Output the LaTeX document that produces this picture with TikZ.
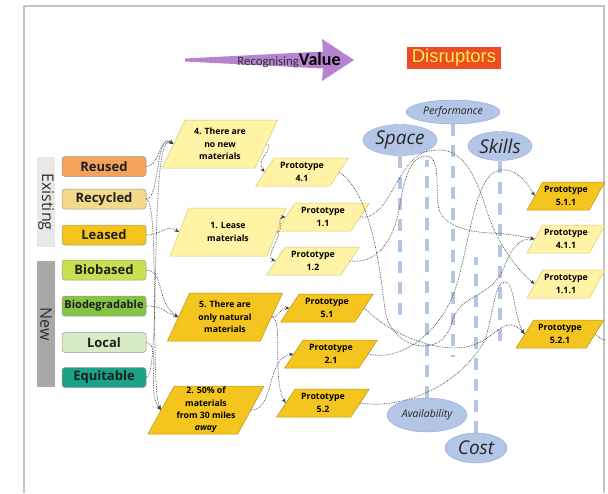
\documentclass[tikz,border=0pt]{standalone}
\usepackage{fontspec}
\setmainfont{Open Sans}
\newfontfamily\calibrifont{Carlito}
\newfontfamily\arialfont{Liberation Sans}
\usetikzlibrary{shapes.geometric,arrows.meta}
\pgfdeclarelayer{background}
\pgfsetlayers{background,main}

\definecolor{frameGray}{HTML}{C4C4C4}
\definecolor{valuePurple}{HTML}{B583D0}
\definecolor{disruptRed}{HTML}{EE4A24}
\definecolor{disruptText}{HTML}{FFF24A}
\definecolor{barLight}{HTML}{E8E8E8}
\definecolor{barDark}{HTML}{A8A8A8}
\definecolor{cReused}{HTML}{F4A25C}
\definecolor{cRecycled}{HTML}{F3D98A}
\definecolor{cLeased}{HTML}{F4C41C}
\definecolor{cBiobased}{HTML}{C6E14E}
\definecolor{cBiodeg}{HTML}{84C444}
\definecolor{cLocal}{HTML}{D8EDC6}
\definecolor{cEquitable}{HTML}{1AA386}
\definecolor{paleYellow}{HTML}{FFF3A6}
\definecolor{paleEdge}{HTML}{D8C875}
\definecolor{gold}{HTML}{F3C51E}
\definecolor{goldEdge}{HTML}{B99512}
\definecolor{bubble}{HTML}{B4C6E6}
\definecolor{bubbleEdge}{HTML}{8EA7D4}

\tikzset{
  tag/.style={rounded corners=3pt, draw=black!40, line width=0.5pt,
    minimum width=84pt, minimum height=20pt, inner sep=0pt,
    font=\bfseries\fontsize{13}{14}\selectfont, text=black!88},
  groupbar/.style={minimum height=18pt, inner sep=0pt, rotate=-90,
    font=\fontsize{16}{18}\selectfont, text=black!82},
  para/.style={trapezium, trapezium left angle=62, trapezium right angle=118,
    trapezium stretches=true, line width=0.5pt, inner sep=0pt, align=center},
  bigpara/.style={para, minimum width=116pt, minimum height=48pt,
    font=\bfseries\fontsize{8.7}{12.3}\selectfont},
  proto/.style={para, trapezium left angle=52, trapezium right angle=128,
    minimum width=93pt, minimum height=28pt,
    font=\bfseries\fontsize{8.8}{12.3}\selectfont},
  pale/.style={fill=paleYellow, draw=paleEdge},
  golden/.style={fill=gold, draw=goldEdge},
  bubblenode/.style={ellipse, fill=bubble, draw=bubbleEdge, line width=0.4pt,
    inner sep=0pt, text=black!85},
  guide/.style={draw=bubble, line width=3.2pt, dash pattern=on 12pt off 9pt},
  link/.style={densely dotted, line width=0.7pt, draw=black!75},
  linkarrow/.style={link, -{Stealth[length=4.5pt,width=3.8pt]}}
}

\begin{document}
\begin{tikzpicture}[x=1pt,y=-1pt]
\useasboundingbox (0,0) rectangle (608,493);

% page frame
\draw[frameGray, line width=1.6pt] (24,493) -- (24,6) -- (604,6) -- (604,493);

% title arrow and heading
\fill[valuePurple] (185,58.5) -- (323,51.5) -- (322,39) -- (354,60)
  -- (322,81) -- (323,68.5) -- (185,61.5) -- cycle;
\node[anchor=base, inner sep=0pt] (valuelabel) at (289,65)
  {\calibrifont\fontsize{12.8}{14}\selectfont\color{black!80}Recognising\fontsize{18}{19}\selectfont\bfseries\color{black}Value};
\node[fill=disruptRed, text=disruptText, minimum width=94pt, minimum height=22pt,
  inner sep=0pt, font=\arialfont\fontsize{18.5}{20}\selectfont] (disruptors) at (454,58) {Disruptors};

% material groups
\node[groupbar, fill=barLight, minimum width=90pt] (existing) at (46,202) {Existing};
\node[groupbar, fill=barDark, minimum width=126pt] (new) at (46,324) {New};

\node[tag, fill=cReused] (reused) at (104,166.5) {Reused};
\node[tag, fill=cRecycled] (recycled) at (104,199) {Recycled};
\node[tag, fill=cLeased] (leased) at (104,235) {Leased};
\node[tag, fill=cBiobased] (biobased) at (104,270) {Biobased};
\node[tag, fill=cBiodeg, font=\bfseries\fontsize{11}{12}\selectfont] (biodeg) at (104,306) {Biodegradable};
\node[tag, fill=cLocal] (local) at (104,342.5) {Local};
\node[tag, fill=cEquitable] (equitable) at (104,377.5) {Equitable};

% scenarios
\node[bigpara, pale] (p4) at (220,144) {4. There are\\no new\\materials};
\node[bigpara, pale] (p1) at (228,232) {1. Lease\\materials};
\node[bigpara, golden] (p5) at (225,317) {5. There are\\only natural\\materials};
\node[bigpara, golden] (p2) at (206,410) {2. 50\% of\\materials\\from 30 miles\\\textit{away}};

% first prototypes
\node[proto, pale] (proto41) at (302,172) {Prototype\\4.1};
\node[proto, pale] (proto11) at (323,217) {Prototype\\1.1};
\node[proto, pale] (proto12) at (313,261) {Prototype\\1.2};
\node[proto, golden] (proto51) at (327,308) {Prototype\\5.1};
\node[proto, golden] (proto21) at (331,354) {Prototype\\2.1};
\node[proto, golden] (proto52) at (323,403) {Prototype\\5.2};

% second prototypes
\node[proto, golden, minimum width=78pt] (p511) at (566,196) {Prototype\\5.1.1};
\node[proto, pale, minimum width=78pt] (p411) at (566,239) {Prototype\\4.1.1};
\node[proto, pale, minimum width=78pt] (p111) at (566,284) {Prototype\\1.1.1};
\node[proto, golden, minimum width=88pt] (p521) at (560,334) {Prototype\\5.2.1};

% disruptors
\node[bubblenode, minimum width=94pt, minimum height=24pt,
  font=\itshape\fontsize{10.5}{12}\selectfont] (performance) at (453,112) {Performance};
\node[bubblenode, minimum width=74pt, minimum height=31pt,
  font=\itshape\fontsize{19}{20}\selectfont] (space) at (400,140) {Space};
\node[bubblenode, minimum width=64pt, minimum height=29pt,
  font=\itshape\fontsize{19}{20}\selectfont] (skills) at (500,146) {Skills};
\node[bubblenode, minimum width=80pt, minimum height=34pt,
  font=\itshape\fontsize{10.5}{12}\selectfont] (availability) at (427,415) {Availability};
\node[bubblenode, minimum width=62pt, minimum height=30pt,
  font=\itshape\fontsize{19}{20}\selectfont] (cost) at (476,448) {Cost};

\coordinate (spaceEnd) at (400,320);
\coordinate (availEnd) at (427,160);
\coordinate (perfEnd) at (453,357);
\coordinate (costEnd) at (476,257);
\coordinate (skillsEnd) at (500,348);
\coordinate (rightExit) at (606,340);

\begin{pgfonlayer}{background}
  \draw[guide] (space.south) -- (spaceEnd);
  \draw[guide] (availability.north) -- (availEnd);
  \draw[guide] (performance.south) -- (perfEnd);
  \draw[guide] (cost.north) -- (costEnd);
  \draw[guide] (skills.south) -- (skillsEnd);
\end{pgfonlayer}

% materials to scenarios
\draw[linkarrow] (reused.east) .. controls +(14,0) and +(-14,-10) .. (p4.west);
\draw[linkarrow] (recycled.east) .. controls +(14,0) and +(-18,-14) .. (p4.west);
\draw[linkarrow] (equitable.east) .. controls (162,377) and (148,128) .. (p4.west);
\draw[linkarrow] (leased.east) .. controls +(16,0) and +(-14,-8) .. (p1.west);
\draw[linkarrow] (biobased.east) .. controls +(18,0) and +(-22,-14) .. (p5.west);
\draw[linkarrow] (biodeg.east) .. controls +(16,0) and +(-16,-6) .. (p5.west);
\draw[linkarrow] (local.east) .. controls (162,344) and (146,392) .. (p2.west);
\draw[linkarrow] (recycled.east) .. controls (160,200) and (150,388) .. (p2.west);

% scenarios to first prototypes
\draw[linkarrow] (p4.east) .. controls +(10,2) and +(-10,-12) .. (proto41.west);
\draw[linkarrow] (p1.east) .. controls +(8,0) and +(-10,0) .. (proto11.west);
\draw[linkarrow] (p1.east) .. controls +(8,0) and +(-12,-4) .. (proto12.west);
\draw[linkarrow] (p5.east) .. controls +(8,0) and +(-10,0) .. (proto51.west);
\draw[linkarrow] (p5.east) .. controls +(12,0) and +(-14,-24) .. (proto52.west);
\draw[linkarrow] (p2.east) .. controls +(24,0) and +(-28,4) .. (proto21.west);

% first prototypes through the disruptors
\draw[linkarrow] (proto11.east) .. controls (388,222) and (398,160) .. (425,152)
  .. controls (455,144) and (470,160) .. (485,205)
  .. controls (495,240) and (515,268) .. (p111.west);
\draw[linkarrow] (proto12.east) .. controls (378,264) and (394,240) .. (400,205)
  .. controls (406,166) and (415,156) .. (427,156)
  .. controls (440,157) and (436,186) .. (438,205)
  .. controls (440,226) and (470,232) .. (490,233)
  .. controls (510,234) and (520,236) .. (p411.west);
\draw[linkarrow] (proto41.east) .. controls (372,195) and (380,270) .. (385,310)
  .. controls (390,348) and (442,362) .. (452,322)
  .. controls (460,292) and (492,300) .. (505,265)
  .. controls (512,246) and (522,238) .. (p411.west);
\draw[linkarrow] (proto21.east) .. controls (402,362) and (440,332) .. (455,290)
  .. controls (470,245) and (474,174) .. (500,170)
  .. controls (515,168) and (526,180) .. (p511.west);
\draw[linkarrow] (proto51.east) .. controls (392,336) and (440,354) .. (470,346)
  .. controls (495,340) and (505,312) .. (p521.west);
\draw[linkarrow] (proto52.east) .. controls (402,410) and (460,386) .. (485,340)
  .. controls (494,312) and (494,282) .. (505,282)
  .. controls (515,283) and (514,318) .. (p521.west);
\draw[link] (p521.east) .. controls +(4,4) and +(-4,0) .. (rightExit);
\end{tikzpicture}
\end{document}
